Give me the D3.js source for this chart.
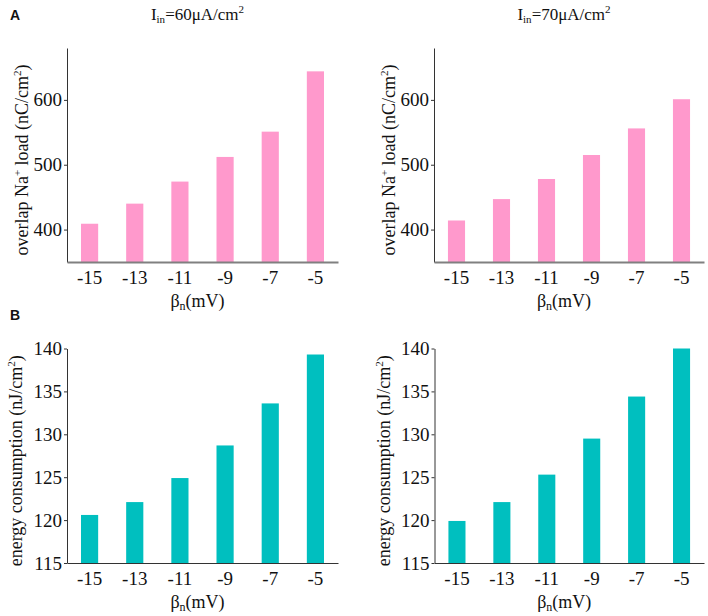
<!DOCTYPE html>
<html>
<head>
<meta charset="utf-8">
<script src="https://cdn.jsdelivr.net/npm/d3@7"></script>
<style>
  html, body { margin: 0; padding: 0; background: #fff; }
  svg { display: block; }
</style>
</head>
<body>
<svg id="chart" width="708" height="616"></svg>
<script>
// ---- data ----
const categories = ["-15", "-13", "-11", "-9", "-7", "-5"];
const naLoad60 = [409, 440, 474, 512, 551, 644];
const naLoad70 = [414, 447, 478, 515, 556, 601];
const energy60 = [120.6, 122.1, 124.9, 128.7, 133.6, 139.3];
const energy70 = [119.9, 122.1, 125.3, 129.5, 134.4, 140.0];
const naTicks = [400, 500, 600];
const energyTicks = [115, 120, 125, 130, 135, 140];
const titles = ["60", "70"];

const svg = d3.select("#chart");
const serif = "'Liberation Serif', 'Times New Roman', serif";

const panels = [
  { x0: 67, x1: 338, y0: 48, y1: 262, domain: [350, 680], values: naLoad60, ticks: naTicks,
    color: "#FF99CC", kind: "na", title: titles[0] },
  { x0: 434, x1: 704, y0: 48, y1: 262, domain: [350, 680], values: naLoad70, ticks: naTicks,
    color: "#FF99CC", kind: "na", title: titles[1] },
  { x0: 67, x1: 338, y0: 348.5, y1: 563, domain: [115, 140], values: energy60, ticks: energyTicks,
    color: "#00BFBF", kind: "en" },
  { x0: 434.5, x1: 704, y0: 348.5, y1: 563, domain: [115, 140], values: energy70, ticks: energyTicks,
    color: "#00BFBF", kind: "en" }
];

panels.forEach(p => {
  const x = d3.scaleBand().domain(categories).range([p.x0, p.x1])
    .paddingInner(0.62).paddingOuter(0.31);
  const y = d3.scaleLinear().domain(p.domain).range([p.y1, p.y0]);
  const g = svg.append("g");

  // bars
  g.selectAll("rect.bar").data(p.values).join("rect")
    .attr("class", "bar")
    .attr("x", (d, i) => x(categories[i]))
    .attr("width", x.bandwidth())
    .attr("y", d => y(d))
    .attr("height", d => y(p.domain[0]) - y(d))
    .attr("fill", p.color);

  // y axis
  const ya = g.append("g").attr("transform", `translate(${p.x0},0)`)
    .call(d3.axisLeft(y).tickValues(p.ticks).tickSizeInner(3).tickSizeOuter(0).tickPadding(2)
      .tickFormat(d3.format("d")));
  ya.select(".domain").attr("stroke", "#333").attr("stroke-width", 1);
  ya.selectAll(".tick line").attr("stroke", "#333");
  ya.selectAll(".tick text").attr("font-family", serif).attr("font-size", 19).attr("fill", "#111");

  // x axis
  const xa = g.append("g").attr("transform", `translate(0,${p.y1})`)
    .call(d3.axisBottom(x).tickSize(0).tickPadding(9));
  xa.select(".domain")
    .attr("stroke", p.kind === "na" ? "#808080" : "#333")
    .attr("stroke-width", p.kind === "na" ? 2 : 1);
  xa.selectAll(".tick text").attr("font-family", serif).attr("font-size", 19).attr("fill", "#111");

  // x label
  const xl = g.append("text")
    .attr("x", (p.x0 + p.x1) / 2 - 5)
    .attr("y", p.y1 + 45)
    .attr("text-anchor", "middle")
    .attr("font-family", serif).attr("font-size", 18).attr("fill", "#111");
  xl.append("tspan").text("β");
  xl.append("tspan").attr("font-size", 12).attr("dy", 3).text("n");
  xl.append("tspan").attr("dy", -3).text("(mV)");

  // y label
  const yl = g.append("text")
    .attr("transform", `translate(${p.x0 - (p.kind === "na" ? 39 : 45)},${(p.y0 + p.y1) / 2 + 5}) rotate(-90)`)
    .attr("text-anchor", "middle")
    .attr("font-family", serif).attr("font-size", 18).attr("fill", "#111");
  if (p.kind === "na") {
    yl.append("tspan").text("overlap Na");
    yl.append("tspan").attr("font-size", 11).attr("dy", -7).text("+");
    yl.append("tspan").attr("dy", 7).text(" load (nC/cm");
    yl.append("tspan").attr("font-size", 11).attr("dy", -7).text("2");
    yl.append("tspan").attr("dy", 7).text(")");
  } else {
    yl.append("tspan").text("energy consumption (nJ/cm");
    yl.append("tspan").attr("font-size", 11).attr("dy", -7).text("2");
    yl.append("tspan").attr("dy", 7).text(")");
  }

  // title
  if (p.title) {
    const t = g.append("text")
      .attr("x", (p.x0 + p.x1) / 2 - 5)
      .attr("y", 20)
      .attr("text-anchor", "middle")
      .attr("font-family", serif).attr("font-size", 17).attr("fill", "#111");
    t.append("tspan").text("I");
    t.append("tspan").attr("font-size", 11).attr("dy", 3).text("in");
    t.append("tspan").attr("dy", -3).text(`=${p.title}μA/cm`);
    t.append("tspan").attr("font-size", 11).attr("dy", -7).text("2");
  }
});

// panel letters
svg.append("text").attr("x", 10).attr("y", 20)
  .attr("font-family", "'Liberation Sans', Arial, sans-serif").attr("font-weight", "bold")
  .attr("font-size", 14).attr("fill", "#111").text("A");
svg.append("text").attr("x", 10).attr("y", 320)
  .attr("font-family", "'Liberation Sans', Arial, sans-serif").attr("font-weight", "bold")
  .attr("font-size", 14).attr("fill", "#111").text("B");
</script>
</body>
</html>
